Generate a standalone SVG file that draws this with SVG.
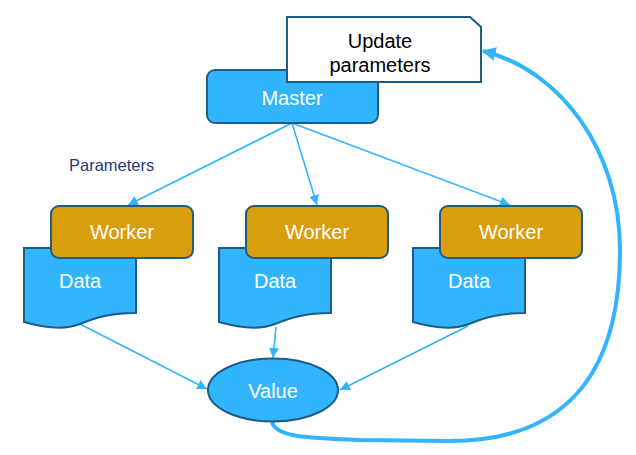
<svg xmlns="http://www.w3.org/2000/svg" width="636" height="455" viewBox="0 0 636 455">
<style>
.blue{fill:#33b5fd;stroke:#1d5c85;stroke-width:2}
.work{fill:#d99e0b;stroke:#1d5c85;stroke-width:2}
.lbl{font-family:"Liberation Sans",Arial,sans-serif;font-size:20px;fill:#fff}
.thin{fill:none;stroke:#33b5fd;stroke-width:1.6}
</style>
<defs>
<marker id="ah" markerWidth="10" markerHeight="10" viewBox="0 0 10 10" refX="10" refY="5" orient="auto" markerUnits="userSpaceOnUse">
<path d="M0,0 L10,5 L0,10 Z" fill="#33b5fd"/>
</marker>
<marker id="ahb" markerWidth="14" markerHeight="14" viewBox="0 0 10 10" refX="9" refY="5" orient="auto" markerUnits="userSpaceOnUse">
<path d="M0,0 L10,5 L0,10 Z" fill="#33b5fd"/>
</marker>
</defs>
<rect width="636" height="455" fill="#fff"/>
<g id="connectors">
<line class="thin" x1="292" y1="123" x2="128" y2="205" marker-end="url(#ah)"/>
<line class="thin" x1="292" y1="123" x2="317" y2="205" marker-end="url(#ah)"/>
<line class="thin" x1="292" y1="123" x2="510" y2="205" marker-end="url(#ah)"/>
<line class="thin" x1="80" y1="324" x2="207" y2="389" marker-end="url(#ah)"/>
<line class="thin" x1="276" y1="327" x2="273" y2="358" marker-end="url(#ah)"/>
<line class="thin" x1="468" y1="326" x2="340" y2="390" marker-end="url(#ah)"/>
<path d="M272,422 C276,436 300,438 360,440 L450,441 C560,441 620,380 620,250 C620,150 560,70 483,51" fill="none" stroke="#33b5fd" stroke-width="4" marker-end="url(#ahb)"/>
</g>
<g id="master">
<rect class="blue" x="207" y="70" width="171" height="53" rx="8"/>
<text class="lbl" x="292" y="105" text-anchor="middle">Master</text>
</g>
<g id="update">
<path d="M287,17 H470 L481,27 V82 H287 Z" fill="#fff" stroke="#1d5c85" stroke-width="2"/>
<text x="380" y="48" text-anchor="middle" font-family="Liberation Sans,Arial,sans-serif" font-size="20" fill="#000">Update</text>
<text x="380" y="72" text-anchor="middle" font-family="Liberation Sans,Arial,sans-serif" font-size="20" fill="#000">parameters</text>
</g>
<text id="params" x="69" y="171" font-family="Liberation Sans,Arial,sans-serif" font-size="16.5" fill="#1f3c78">Parameters</text>
<g id="data1">
<path class="blue" d="M24,248 H136 V313 C110,313 95,318 80,324 C65,330 45,328 24,322 Z"/>
<text class="lbl" x="59" y="288">Data</text>
</g>
<g id="worker1">
<rect class="work" x="51" y="206" width="142" height="52" rx="8"/>
<text class="lbl" x="122" y="239" text-anchor="middle">Worker</text>
</g>
<g id="data2">
<path class="blue" d="M219,248 H331 V313 C305,313 290,318 275,324 C260,330 240,328 219,322 Z"/>
<text class="lbl" x="254" y="288">Data</text>
</g>
<g id="worker2">
<rect class="work" x="246" y="206" width="142" height="52" rx="8"/>
<text class="lbl" x="317" y="239" text-anchor="middle">Worker</text>
</g>
<g id="data3">
<path class="blue" d="M413,248 H525 V313 C499,313 484,318 469,324 C454,330 434,328 413,322 Z"/>
<text class="lbl" x="448" y="288">Data</text>
</g>
<g id="worker3">
<rect class="work" x="440" y="206" width="142" height="52" rx="8"/>
<text class="lbl" x="511" y="239" text-anchor="middle">Worker</text>
</g>
<g id="value">
<ellipse class="blue" cx="273" cy="390" rx="65" ry="31.5"/>
<text class="lbl" x="273" y="398" text-anchor="middle">Value</text>
</g>
</svg>
